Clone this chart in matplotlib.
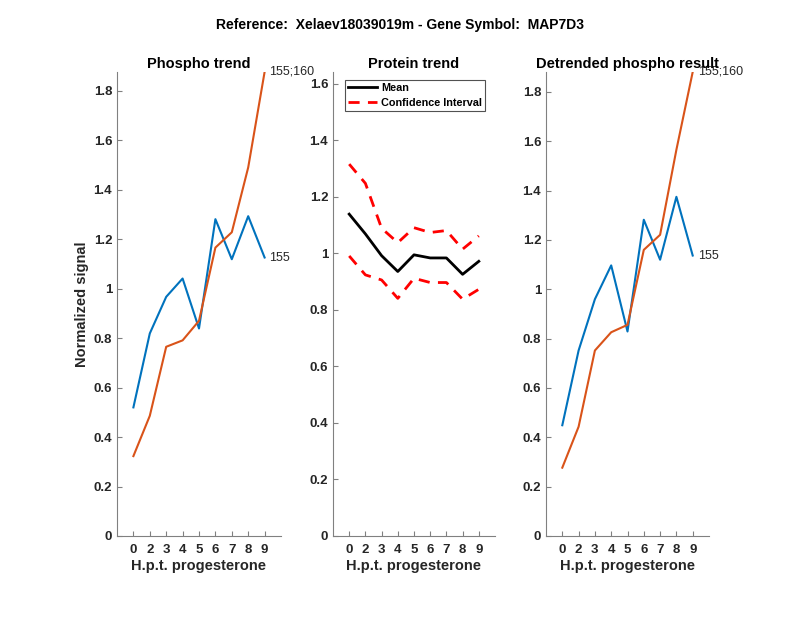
import matplotlib
matplotlib.use("Agg")
import matplotlib.pyplot as plt
from matplotlib.ticker import FuncFormatter

plt.rcParams['font.family'] = ['Liberation Sans', 'DejaVu Sans']

x_labels = ['0', '2', '3', '4', '5', '6', '7', '8', '9']
x_pos = list(range(1, 10))

phospho_155 = [0.52, 0.819, 0.967, 1.041, 0.839, 1.281, 1.119, 1.293, 1.126]
phospho_155_160 = [0.323, 0.486, 0.765, 0.791, 0.870, 1.166, 1.228, 1.490, 1.876]

protein_mean = [1.139, 1.069, 0.992, 0.936, 0.995, 0.984, 0.984, 0.926, 0.972]
protein_upper = [1.316, 1.248, 1.089, 1.038, 1.091, 1.074, 1.081, 1.015, 1.062]
protein_lower = [0.991, 0.924, 0.906, 0.841, 0.912, 0.897, 0.897, 0.838, 0.873]

detr_155 = [0.449, 0.752, 0.960, 1.097, 0.829, 1.282, 1.120, 1.375, 1.137]
detr_155_160 = [0.277, 0.443, 0.752, 0.826, 0.856, 1.160, 1.221, 1.566, 1.881]

BLUE = '#0072BD'
ORANGE = '#D95319'
AXC = '#262626'

fig = plt.figure(figsize=(8, 6.18), dpi=100)
fig.text(0.5, 1 - 25/618, 'Reference:  Xelaev18039019m - Gene Symbol:  MAP7D3',
         ha='center', va='center', fontsize=10, fontweight='bold')

bottom = 1 - 536/618
height = (536 - 72)/618
ax1 = fig.add_axes([117/800, bottom, 164/800, height])
ax2 = fig.add_axes([333/800, bottom, 162/800, height])
ax3 = fig.add_axes([546/800, bottom, 163/800, height])

def fmt(v, p):
    s = ('%.1f' % v)
    if s.endswith('.0'):
        s = s[:-2]
    return s

def style(ax, ymax, yticks):
    ax.set_xlim(0, 10)
    ax.set_ylim(0, ymax)
    ax.set_xticks(x_pos)
    ax.set_xticklabels(x_labels)
    ax.set_yticks(yticks)
    ax.yaxis.set_major_formatter(FuncFormatter(fmt))
    for s in ['top', 'right']:
        ax.spines[s].set_visible(False)
    for s in ['left', 'bottom']:
        ax.spines[s].set_color('#808080')
        ax.spines[s].set_linewidth(0.8)
    ax.tick_params(direction='in', length=3.5, width=0.8, color='#808080',
                   labelcolor=AXC, labelsize=9.5)
    ax.tick_params(axis='y', pad=3.5)
    ax.tick_params(axis='x', pad=5.5)
    for lab in ax.get_xticklabels() + ax.get_yticklabels():
        lab.set_fontweight('bold')
    ax.set_xlabel('H.p.t. progesterone', fontsize=10.5, fontweight='bold', color=AXC, labelpad=2.5)

yt18 = [0, 0.2, 0.4, 0.6, 0.8, 1.0, 1.2, 1.4, 1.6, 1.8]
yt16 = [0, 0.2, 0.4, 0.6, 0.8, 1.0, 1.2, 1.4, 1.6]

# Panel 1
ax1.plot(x_pos, phospho_155, color=BLUE, lw=1.5)
ax1.plot(x_pos, phospho_155_160, color=ORANGE, lw=1.5)
style(ax1, max(phospho_155_160), yt18)
ax1.text(9.3, phospho_155[-1], '155', fontsize=9, va='center', ha='left', color=AXC)
ax1.text(9.3, phospho_155_160[-1], '155;160', fontsize=9, va='center', ha='left', color=AXC)
ax1.set_title('Phospho trend', fontsize=10.5, fontweight='bold', pad=3)
ax1.set_ylabel('Normalized signal', fontsize=10.5, fontweight='bold', color=AXC, labelpad=3)

# Panel 2
ax2.plot(x_pos, protein_mean, color='black', lw=2, label='Mean')
ax2.plot(x_pos, protein_upper, color='red', lw=2, ls=(0, (4, 3)), label='Confidence Interval')
ax2.plot(x_pos, protein_lower, color='red', lw=2, ls=(0, (4, 3)))
style(ax2, 1.642, yt16)
ax2.set_title('Protein trend', fontsize=10.5, fontweight='bold', pad=3)
leg = ax2.legend(loc='upper left', bbox_to_anchor=(0.075, 0.983), frameon=True, fancybox=False,
                 edgecolor='#262626', prop={'size': 7.8, 'weight': 'bold'},
                 handlelength=2.7, borderpad=0.25, labelspacing=0.5, handletextpad=0.4,
                 borderaxespad=0)
leg.get_frame().set_linewidth(0.8)

# Panel 3
ax3.plot(x_pos, detr_155, color=BLUE, lw=1.5)
ax3.plot(x_pos, detr_155_160, color=ORANGE, lw=1.5)
style(ax3, max(detr_155_160), yt18)
ax3.text(9.3, detr_155[-1], '155', fontsize=9, va='center', ha='left', color=AXC)
ax3.text(9.3, detr_155_160[-1], '155;160', fontsize=9, va='center', ha='left', color=AXC)
ax3.set_title('Detrended phospho result', fontsize=10.5, fontweight='bold', pad=3)

fig.savefig('out.png', dpi=100)
